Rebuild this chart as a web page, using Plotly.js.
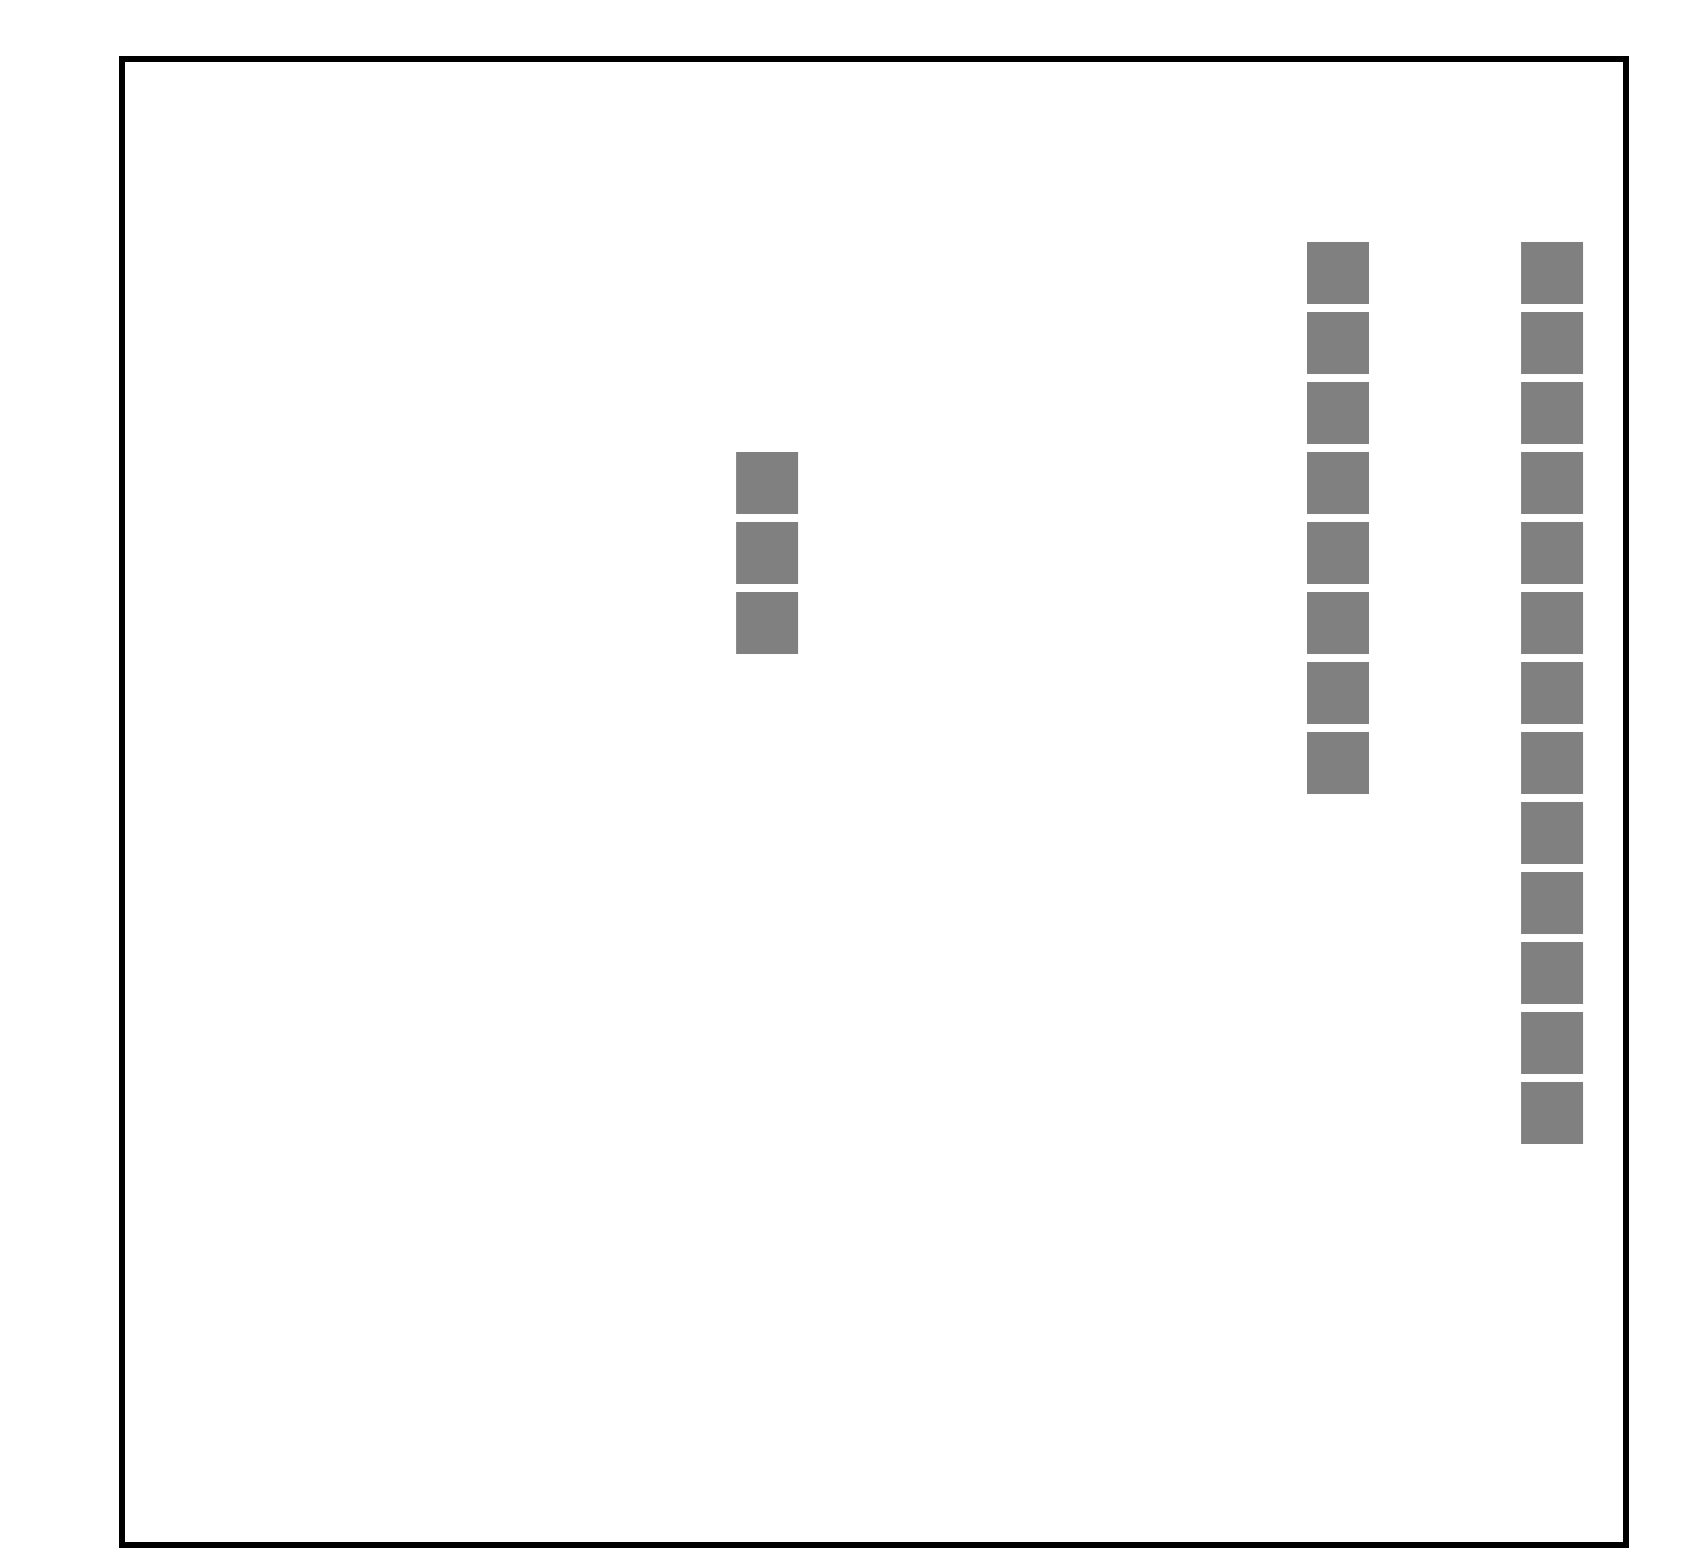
<!DOCTYPE html>
<html>
<head>
<meta charset="utf-8">
<script src="https://cdn.plot.ly/plotly-3.0.1.min.js"></script>
<style>html,body{margin:0;padding:0;background:#fff;}#chart{width:1684px;height:1568px;}</style>
</head>
<body>
<div id="chart"></div>
<script>
// Column positions on the x scale, number of stacked units, and first row (from top) of each column
const columnX = [9, 17, 20];
const unitCounts = [3, 8, 13];
const startRows = [3, 0, 0];

const xs = [], ys = [];
columnX.forEach((cx, i) => {
  for (let k = 0; k < unitCounts[i]; k++) {
    xs.push(cx);
    ys.push(startRows[i] + k);
  }
});

const trace = {
  type: 'scatter',
  mode: 'markers',
  x: xs,
  y: ys,
  hoverinfo: 'skip',
  marker: { symbol: 'square', size: 62, color: '#808080', line: { width: 0 } }
};

const layout = {
  width: 1684,
  height: 1568,
  margin: { l: 122, r: 58, t: 59, b: 23, pad: 0 },
  paper_bgcolor: '#ffffff',
  plot_bgcolor: '#ffffff',
  showlegend: false,
  xaxis: { range: [-0.04, 21.036], showgrid: false, zeroline: false, showticklabels: false, ticks: '', showline: false },
  yaxis: { range: [18.17, -3.057], showgrid: false, zeroline: false, showticklabels: false, ticks: '', showline: false },
  shapes: [{
    type: 'rect', xref: 'paper', yref: 'paper', x0: 0, x1: 1, y0: 0, y1: 1,
    line: { color: '#000000', width: 6 }, fillcolor: 'rgba(0,0,0,0)', layer: 'above'
  }]
};

Plotly.newPlot('chart', [trace], layout, { displayModeBar: false, staticPlot: true });
</script>
</body>
</html>
